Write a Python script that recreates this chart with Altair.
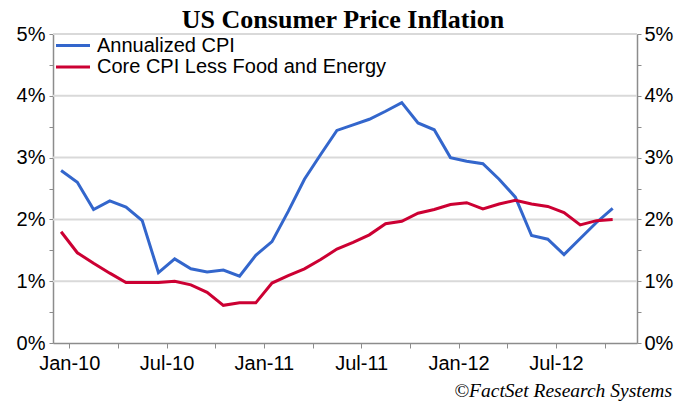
import altair as alt
import pandas as pd

months = ["Dec-09", "Jan-10", "Feb-10", "Mar-10", "Apr-10", "May-10", "Jun-10", "Jul-10",
          "Aug-10", "Sep-10", "Oct-10", "Nov-10", "Dec-10", "Jan-11", "Feb-11", "Mar-11",
          "Apr-11", "May-11", "Jun-11", "Jul-11", "Aug-11", "Sep-11", "Oct-11", "Nov-11",
          "Dec-11", "Jan-12", "Feb-12", "Mar-12", "Apr-12", "May-12", "Jun-12", "Jul-12",
          "Aug-12", "Sep-12", "Oct-12"]
cpi = [2.79, 2.60, 2.16, 2.30, 2.20, 1.98, 1.14, 1.36, 1.20, 1.15, 1.18, 1.08, 1.42, 1.64,
       2.13, 2.65, 3.05, 3.44, 3.53, 3.62, 3.75, 3.89, 3.56, 3.45, 3.00, 2.94, 2.90, 2.65,
       2.36, 1.74, 1.68, 1.43, 1.69, 1.95, 2.18]
core = [1.80, 1.46, 1.29, 1.13, 0.98, 0.98, 0.98, 1.00, 0.94, 0.82, 0.61, 0.65, 0.65, 0.97,
        1.09, 1.20, 1.35, 1.52, 1.63, 1.75, 1.93, 1.97, 2.10, 2.16, 2.24, 2.27, 2.17, 2.25,
        2.31, 2.25, 2.21, 2.11, 1.91, 1.98, 2.00]

series_names = ["Annualized CPI", "Core CPI Less Food and Energy"]
series_colors = ["#3366CC", "#CC0033"]
tick_labels = ["Jan-10", "", "Jul-10", "", "Jan-11", "", "Jul-11", "", "Jan-12", "", "Jul-12", ""]
tick_values = [0.5 + 3 * k for k in range(len(tick_labels))]
y_ticks = [0.5 * k for k in range(11)]
grid_values = [1, 2, 3, 4, 5]
title_text = "US Consumer Price Inflation"
source_text = "\u00a9FactSet Research Systems"

rows = []
for i, m in enumerate(months):
    rows.append({"idx": i, "month": m, "series": series_names[0], "value": cpi[i]})
    rows.append({"idx": i, "month": m, "series": series_names[1], "value": core[i]})
df = pd.DataFrame(rows)

FONT = "Liberation Sans"
AXIS_GRAY = "#8c8c8c"
W, H = 584, 309

xscale = alt.Scale(domain=[-0.5, 35.5], nice=False, zero=False)
yscale = alt.Scale(domain=[0, 5], nice=False, zero=True)

label_expr_x = "[" + ",".join(f"'{t}'" for t in tick_labels) + "][round((datum.value - 0.5) / 3)]"
label_expr_y = "datum.value % 1 == 0 ? datum.value + '%' : ''"

common_axis = dict(
    title=None, grid=False, domainColor=AXIS_GRAY, domainWidth=1.5,
    tickColor=AXIS_GRAY, tickWidth=1, labelFont=FONT, labelFontSize=20,
    labelColor="black", labelOverlap=False,
)

grid = alt.Chart(pd.DataFrame({"g": grid_values})).mark_rule(
    color="#d9d9d9", strokeWidth=2
).encode(
    y=alt.Y("g:Q", scale=yscale,
            axis=alt.Axis(orient="right", values=y_ticks, labelExpr=label_expr_y,
                          tickSize=4, labelPadding=3, **common_axis))
)

lines = alt.Chart(df).mark_line(strokeWidth=3).encode(
    x=alt.X("idx:Q", scale=xscale,
            axis=alt.Axis(values=tick_values, labelExpr=label_expr_x, tickSize=5,
                          labelPadding=5, labelAngle=0, **common_axis)),
    y=alt.Y("value:Q", scale=yscale,
            axis=alt.Axis(orient="left", values=y_ticks, labelExpr=label_expr_y,
                          tickSize=4, labelPadding=4, **common_axis)),
    color=alt.Color("series:N", scale=alt.Scale(domain=series_names, range=series_colors),
                    legend=None),
    order=alt.Order("idx:Q"),
)

legend_layers = []
for k, (name, col) in enumerate(zip(series_names, series_colors)):
    ly = 11.5 + 21.5 * k
    ldf = pd.DataFrame({"series": [name]})
    legend_layers.append(
        alt.Chart(ldf).mark_rule(color=col, strokeWidth=3).encode(
            x=alt.value(3), x2=alt.value(37), y=alt.value(ly)
        )
    )
    legend_layers.append(
        alt.Chart(ldf).mark_text(font=FONT, fontSize=20, align="left", baseline="middle",
                                 color="black").encode(
            x=alt.value(44), y=alt.value(ly), text="series:N"
        )
    )

title = alt.Chart(pd.DataFrame({"t": [title_text]})).mark_text(
    font="Liberation Serif", fontSize=26, fontWeight="bold", align="center",
    baseline="alphabetic", color="black"
).encode(x=alt.value(290), y=alt.value(-6), text="t:N")

source = alt.Chart(pd.DataFrame({"t": [source_text]})).mark_text(
    font="Liberation Serif", fontSize=19.5, fontStyle="italic", align="right",
    baseline="alphabetic", color="black"
).encode(x=alt.value(619), y=alt.value(363), text="t:N")

chart = alt.layer(grid, lines, *legend_layers, title, source).resolve_axis(
    y="independent"
).properties(
    width=W, height=H,
    autosize=alt.AutoSizeParams(type="none"),
    padding={"left": 45, "top": 26, "right": 46, "bottom": 58},
    background="white",
).configure_view(stroke=None)

chart.save("out.html", embed_options={"renderer": "svg", "actions": False})
